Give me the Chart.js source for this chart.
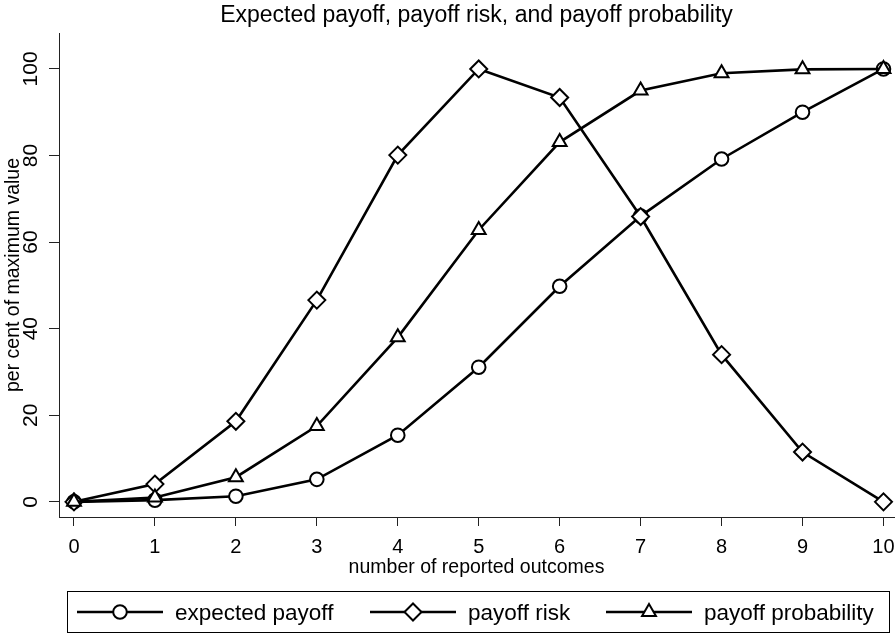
<!DOCTYPE html>
<html>
<head>
<meta charset="utf-8">
<script src="https://cdn.jsdelivr.net/npm/chart.js@4.4.0/dist/chart.umd.min.js"></script>
<style>
html,body{margin:0;padding:0;background:#fff;}
#wrap{width:895px;height:634px;}
canvas{display:block;}
</style>
</head>
<body>
<div id="wrap"><canvas id="c" width="895" height="634"></canvas></div>
<script>
// ---- data ----
const categories = [0, 1, 2, 3, 4, 5, 6, 7, 8, 9, 10];
const expectedPayoff = [0, 0.4, 1.3, 5.2, 15.4, 31.1, 49.8, 66.0, 79.2, 90.0, 100];
const payoffRisk = [0, 4.1, 18.6, 46.6, 80.1, 100, 93.4, 65.9, 34.0, 11.5, 0];
const payoffProbability = [0, 1.0, 5.7, 17.5, 38.0, 62.8, 83.1, 95.0, 99.0, 99.9, 100];
const xTicks = [0, 1, 2, 3, 4, 5, 6, 7, 8, 9, 10];
const yTicks = [0, 20, 40, 60, 80, 100];
const seriesLabels = ['expected payoff', 'payoff risk', 'payoff probability'];
const seriesMarkers = ['circle', 'rectRot', 'triangle'];
const titleText = 'Expected payoff, payoff risk, and payoff probability';
const xTitle = 'number of reported outcomes';
const yTitle = 'per cent of maximum value';

const FONT = '"Liberation Sans", Arial, Helvetica, sans-serif';
const markerRadius = {circle: 6.8, rectRot: 8.5, triangle: 8};
const seriesValues = [expectedPayoff, payoffRisk, payoffProbability];

function mkDataset(i) {
  return {
    label: seriesLabels[i],
    data: categories.map((x, k) => ({x: x, y: seriesValues[i][k]})),
    borderColor: '#000',
    borderWidth: 2.6,
    pointStyle: seriesMarkers[i],
    pointRadius: markerRadius[seriesMarkers[i]],
    pointBackgroundColor: '#fff',
    pointBorderColor: '#000',
    pointBorderWidth: 2,
    tension: 0,
    fill: false,
    clip: false,
    order: 3 - i
  };
}

function drawMarker(ctx, style, x, y) {
  ctx.save();
  ctx.fillStyle = '#fff';
  ctx.strokeStyle = '#000';
  ctx.lineWidth = 2;
  if (Chart.helpers && Chart.helpers.drawPoint) {
    Chart.helpers.drawPoint(ctx, {pointStyle: style, radius: markerRadius[style], rotation: 0, borderWidth: 2}, x, y);
  } else {
    ctx.beginPath();
    ctx.arc(x, y, markerRadius[style], 0, Math.PI * 2);
    ctx.fill(); ctx.stroke();
  }
  ctx.restore();
}

const decorPlugin = {
  id: 'decor',
  afterDraw(chart) {
    const ctx = chart.ctx;
    const ca = chart.chartArea;
    const xs = chart.scales.x, ys = chart.scales.y;
    ctx.save();
    ctx.fillStyle = '#000';
    // title
    ctx.font = '23px ' + FONT;
    ctx.textAlign = 'center';
    ctx.textBaseline = 'alphabetic';
    ctx.fillText(titleText, (ca.left + ca.right) / 2, 22);
    // x tick labels
    ctx.font = '20px ' + FONT;
    xTicks.forEach(v => ctx.fillText(String(v), xs.getPixelForValue(v), 553));
    // x title
    ctx.font = '19.5px ' + FONT;
    ctx.fillText(xTitle, (ca.left + ca.right) / 2, 573);
    // y tick labels (rotated)
    ctx.font = '21px ' + FONT;
    yTicks.forEach(v => {
      ctx.save();
      ctx.translate(37, ys.getPixelForValue(v));
      ctx.rotate(-Math.PI / 2);
      ctx.fillText(String(v), 0, 0);
      ctx.restore();
    });
    // y title
    ctx.font = '19.5px ' + FONT;
    ctx.save();
    ctx.translate(18.5, (ca.top + ca.bottom) / 2);
    ctx.rotate(-Math.PI / 2);
    ctx.fillText(yTitle, 0, 0);
    ctx.restore();
    // legend
    const boxL = 67, boxT = 591, boxR = 889, boxB = 633;
    ctx.strokeStyle = '#000';
    ctx.lineWidth = 1;
    ctx.strokeRect(boxL + 0.5, boxT + 0.5, boxR - boxL, boxB - boxT - 1);
    const starts = [77, 370, 606];
    const cy = 612;
    ctx.font = '22.5px ' + FONT;
    ctx.textAlign = 'left';
    seriesLabels.forEach((lab, i) => {
      const x0 = starts[i];
      ctx.strokeStyle = '#000';
      ctx.lineWidth = 2.6;
      ctx.beginPath();
      ctx.moveTo(x0, cy);
      ctx.lineTo(x0 + 86, cy);
      ctx.stroke();
      drawMarker(ctx, seriesMarkers[i], x0 + 43, cy);
      ctx.fillStyle = '#000';
      ctx.fillText(lab, x0 + 98, 620);
    });
    ctx.restore();
  }
};

new Chart(document.getElementById('c'), {
  type: 'line',
  data: {datasets: [mkDataset(0), mkDataset(1), mkDataset(2)]},
  options: {
    responsive: false,
    animation: false,
    devicePixelRatio: 1,
    layout: {autoPadding: false, padding: {top: 33, left: 0, right: 1, bottom: 0}},
    plugins: {legend: {display: false}, title: {display: false}, tooltip: {enabled: false}},
    scales: {
      x: {
        type: 'linear',
        min: -0.185,
        max: 10.13,
        afterBuildTicks: s => { s.ticks = xTicks.map(v => ({value: v})); },
        afterFit: s => { s.height = 117; },
        ticks: {display: false},
        grid: {display: true, drawOnChartArea: false, drawTicks: true, tickLength: 9, color: '#222', lineWidth: 1},
        border: {display: true, color: '#222', width: 1}
      },
      y: {
        type: 'linear',
        min: -3.5,
        max: 108.3,
        afterBuildTicks: s => { s.ticks = yTicks.map(v => ({value: v})); },
        afterFit: s => { s.width = 59; },
        ticks: {display: false},
        grid: {display: true, drawOnChartArea: false, drawTicks: true, tickLength: 10, color: '#222', lineWidth: 1},
        border: {display: true, color: '#222', width: 1}
      }
    }
  },
  plugins: [decorPlugin]
});
</script>
</body>
</html>
